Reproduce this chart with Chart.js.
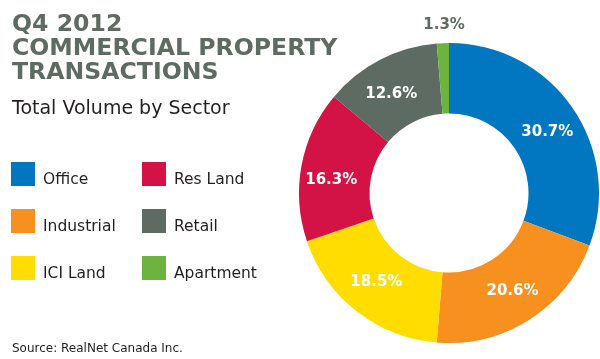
<!DOCTYPE html>
<html>
<head>
<meta charset="utf-8">
<script src="https://cdn.jsdelivr.net/npm/chart.js@4"></script>
<style>
  html, body { margin: 0; padding: 0; background: #fff; overflow: hidden; }
  #wrap { position: relative; width: 600px; height: 359px; }
  #chart { position: absolute; left: 0; top: 0; }
  .t { position: absolute; white-space: nowrap; font-family: "DejaVu Sans", sans-serif; }
  #title { left: 12px; top: 11px; font-size: 23.6px; font-weight: bold; line-height: 24px; color: #5e6b62; }
  #sub { left: 12px; top: 96px; font-size: 19px; color: #231f20; }
  #source { left: 12px; top: 341px; font-size: 12px; color: #231f20; }
  .sw { position: absolute; width: 24px; height: 24px; }
  .lt { position: absolute; font-family: "DejaVu Sans", sans-serif; font-size: 15.5px; color: #231f20; white-space: nowrap; }
</style>
</head>
<body>
<div id="wrap">
  <canvas id="chart" width="600" height="359"></canvas>
  <div id="title" class="t">Q4 2012<br>COMMERCIAL PROPERTY<br>TRANSACTIONS</div>
  <div id="sub" class="t">Total Volume by Sector</div>
  <div id="legend"></div>
  <div id="source" class="t">Source: RealNet Canada Inc.</div>
</div>
<script>
const sectors = ['Office', 'Industrial', 'ICI Land', 'Res Land', 'Retail', 'Apartment'];
const shares = [30.7, 20.6, 18.5, 16.3, 12.6, 1.3];
const colors = ['#0077c0', '#f7901e', '#ffdd00', '#d31245', '#5e6b62', '#6db33f'];
// small hand placement tweaks of the % labels, as in the original artwork
const labelNudge = [[4, 5], [2, 1], [-2, -1], [-5, 8], [-5, 3], [2, 2]];

// legend: two columns of three
const legendEl = document.getElementById('legend');
sectors.forEach((name, i) => {
  const col = i < 3 ? 0 : 1, row = i % 3;
  const x = 11 + col * 131, y = 162 + row * 47;
  const sw = document.createElement('div');
  sw.className = 'sw';
  sw.style.left = x + 'px';
  sw.style.top = y + 'px';
  sw.style.background = colors[i];
  legendEl.appendChild(sw);
  const lt = document.createElement('div');
  lt.className = 'lt';
  lt.style.left = (x + 32) + 'px';
  lt.style.top = (y + 8) + 'px';
  lt.textContent = name;
  legendEl.appendChild(lt);
});

const sliceLabels = {
  id: 'sliceLabels',
  afterDatasetsDraw(chart) {
    const ctx = chart.ctx;
    const meta = chart.getDatasetMeta(0);
    ctx.save();
    ctx.font = 'bold 15px "DejaVu Sans", sans-serif';
    ctx.textAlign = 'center';
    ctx.textBaseline = 'middle';
    meta.data.forEach((arc, i) => {
      const v = shares[i];
      const txt = v.toFixed(1) + '%';
      const mid = (arc.startAngle + arc.endAngle) / 2;
      let r = (arc.innerRadius + arc.outerRadius) / 2;
      let color = '#fff';
      if (v < 5) { r = arc.outerRadius + 20; color = '#5e6b62'; }
      ctx.fillStyle = color;
      ctx.fillText(txt, arc.x + Math.cos(mid) * r + labelNudge[i][0], arc.y + Math.sin(mid) * r + labelNudge[i][1]);
    });
    ctx.restore();
  }
};

new Chart(document.getElementById('chart'), {
  type: 'doughnut',
  data: {
    labels: sectors,
    datasets: [{ data: shares, backgroundColor: colors, borderWidth: 0 }]
  },
  options: {
    responsive: false,
    animation: false,
    cutout: '53%',
    layout: { padding: { left: 299, right: 1, top: 43, bottom: 16 } },
    plugins: { legend: { display: false }, tooltip: { enabled: false } }
  },
  plugins: [sliceLabels]
});
</script>
</body>
</html>
